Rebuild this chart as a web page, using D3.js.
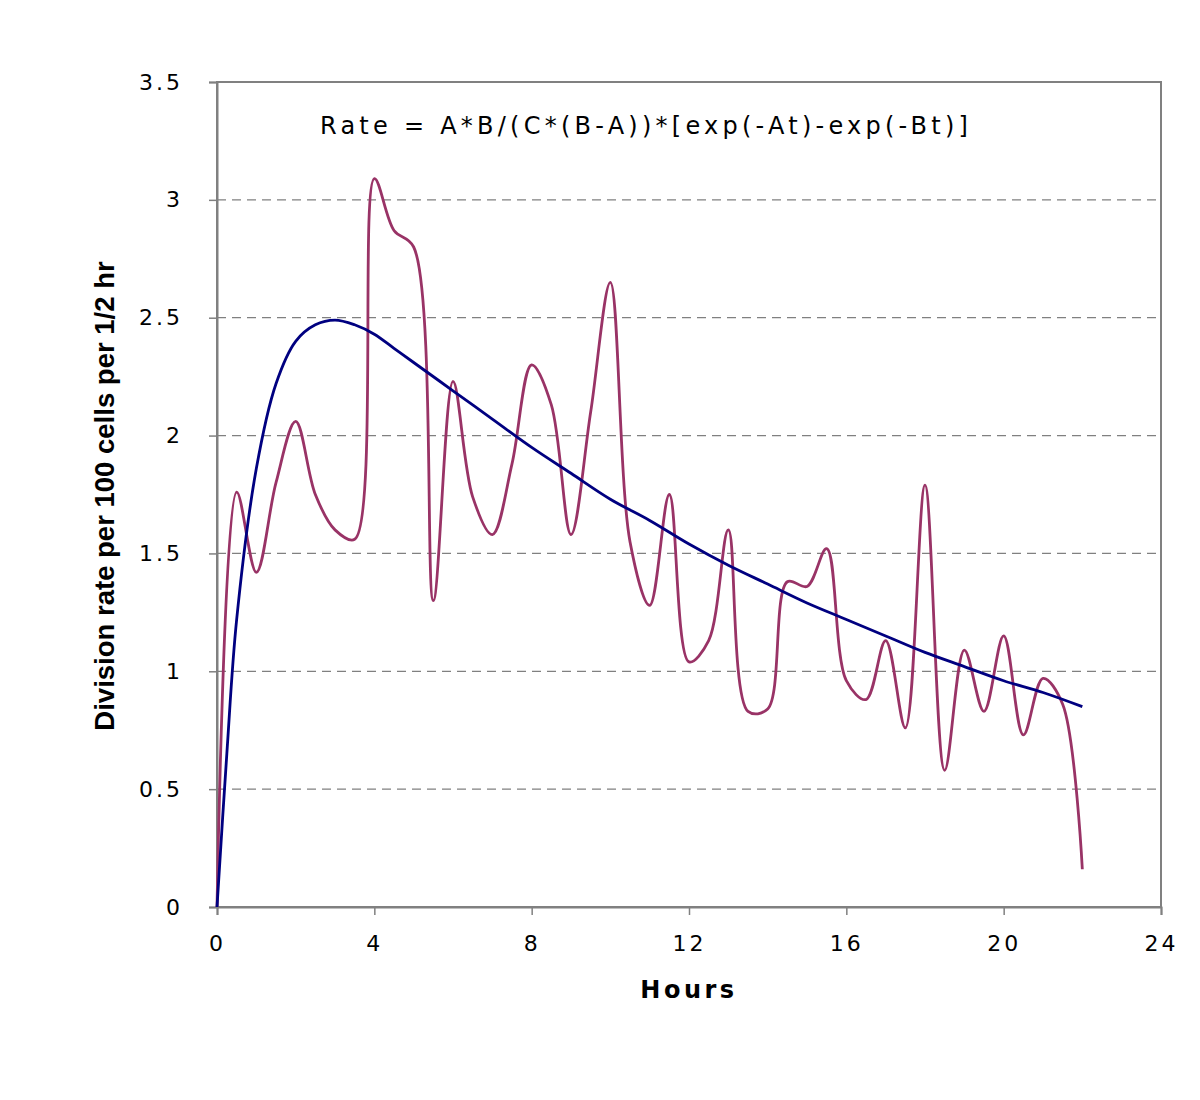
<!DOCTYPE html>
<html><head><meta charset="utf-8">
<script src="https://cdn.jsdelivr.net/npm/d3@7"></script>
<style>body{margin:0;background:#fff;}</style>
</head><body>
<svg id="chart" width="1200" height="1100"></svg>
<script>
// Observed division rate (every half hour)
const obsHours = [0,0.5,1,1.5,2,2.5,3,3.5,4,4.5,5,5.5,6,6.5,7,7.5,8,8.5,9,9.5,10,10.5,11,11.5,12,12.5,13,13.5,14,14.5,15,15.5,16,16.5,17,17.5,18,18.5,19,19.5,20,20.5,21,21.5,22];
const obsRate  = [0,1.76,1.42,1.80,2.06,1.75,1.60,1.56,3.09,2.87,2.80,1.30,2.23,1.74,1.58,1.88,2.30,2.13,1.58,2.10,2.65,1.55,1.28,1.75,1.04,1.13,1.60,0.83,0.84,1.38,1.36,1.52,0.96,0.88,1.13,0.76,1.79,0.58,1.09,0.83,1.15,0.73,0.97,0.86,0.16];
// Fitted curve
const fitHours = [0,0.25,0.5,1,1.5,2,2.5,3,3.5,4,4.5,5,6,7,8,9,10,11,12,13,14,15,16,17,18,19,20,21,22];
const fitRate  = [0,0.65,1.22,1.86,2.22,2.40,2.47,2.49,2.47,2.43,2.37,2.31,2.19,2.07,1.95,1.84,1.73,1.64,1.54,1.45,1.37,1.29,1.22,1.15,1.08,1.02,0.96,0.91,0.85];
const xTicks = [0,4,8,12,16,20,24];
const yTicks = [0,0.5,1,1.5,2,2.5,3,3.5];
const gridValues = [0.5,1,1.5,2,2.5,3];
const formula = "Rate = A*B/(C*(B-A))*[exp(-At)-exp(-Bt)]";
const xTitle = "Hours";
const yTitle = "Division rate per 100 cells per 1/2 hr";

const svg = d3.select("#chart");
const L = 217, R = 1161, T = 82, B = 907;
const x = d3.scaleLinear().domain([0,24]).range([L,R]);
const y = d3.scaleLinear().domain([0,3.5]).range([B,T]);

// gridlines
svg.append("g").selectAll("line").data(gridValues).join("line")
  .attr("x1", L).attr("x2", R)
  .attr("y1", d => y(d)).attr("y2", d => y(d))
  .attr("stroke", "#808080").attr("stroke-width", 1.2)
  .attr("stroke-dasharray", "9,6");

// frame
svg.append("rect").attr("x", L).attr("y", T).attr("width", R-L).attr("height", B-T)
  .attr("fill", "none").attr("stroke", "#808080").attr("stroke-width", 2);

// axes
const fmt = d => String(d);
const yAxis = svg.append("g").attr("transform", `translate(${L},0)`)
  .call(d3.axisLeft(y).tickValues(yTicks).tickFormat(fmt).tickSize(8).tickPadding(26));
const xAxis = svg.append("g").attr("transform", `translate(0,${B})`)
  .call(d3.axisBottom(x).tickValues(xTicks).tickFormat(fmt).tickSize(8).tickPadding(20));
[yAxis, xAxis].forEach(a => {
  a.select(".domain").attr("stroke", "#808080").attr("stroke-width", 2);
  a.selectAll(".tick line").attr("stroke", "#808080").attr("stroke-width", 1.5);
  a.selectAll(".tick text").attr("fill", "#000").attr("font-family", "DejaVu Sans, Verdana, sans-serif")
    .attr("font-size", 22).style("letter-spacing", "3px");
});

// lines
const line = d3.line().x(d => x(d[0])).y(d => y(d[1])).curve(d3.curveCatmullRom.alpha(0.5));
svg.append("path").datum(d3.zip(obsHours, obsRate)).attr("d", line)
  .attr("fill", "none").attr("stroke", "#993366").attr("stroke-width", 2.8).attr("stroke-linejoin", "round");
svg.append("path").datum(d3.zip(fitHours, fitRate)).attr("d", line)
  .attr("fill", "none").attr("stroke", "#000080").attr("stroke-width", 2.8);

// formula
svg.append("text").attr("x", 320).attr("y", 134).text(formula)
  .attr("font-family", "DejaVu Sans, Verdana, sans-serif").attr("font-size", 24)
  .style("letter-spacing", "4.25px");

// titles
svg.append("text").attr("x", (L+R)/2).attr("y", 998).attr("text-anchor", "middle").text(xTitle)
  .attr("font-family", "DejaVu Sans, Verdana, sans-serif").attr("font-weight", "bold")
  .attr("font-size", 24).style("letter-spacing", "3.5px");
svg.append("text").attr("transform", `translate(114,${(262+730)/2}) rotate(-90)`)
  .attr("text-anchor", "middle").text(yTitle)
  .attr("font-family", "Liberation Sans, Arial, sans-serif").attr("font-weight", "bold")
  .attr("font-size", 27.5);
</script>
</body></html>
